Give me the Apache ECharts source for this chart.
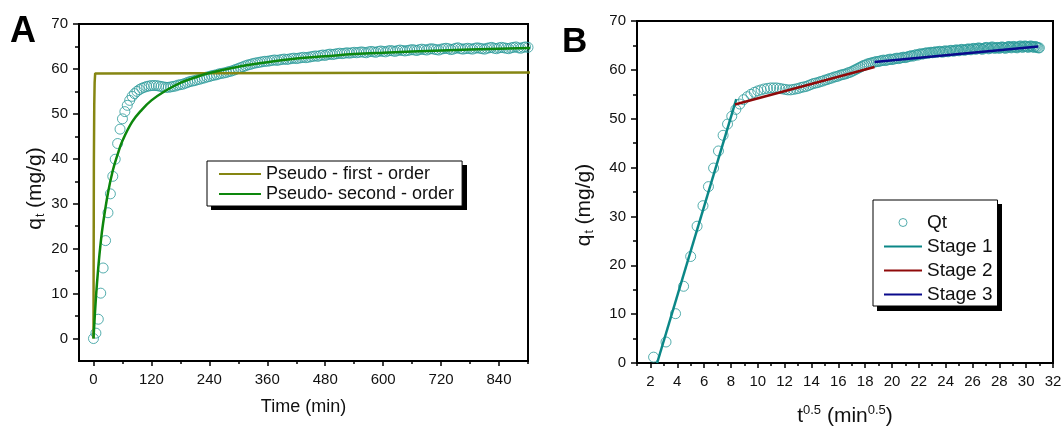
<!DOCTYPE html>
<html>
<head>
<meta charset="utf-8">
<script src="https://cdn.jsdelivr.net/npm/echarts@6/dist/echarts.min.js"></script>
<style>
  html, body { margin: 0; padding: 0; background: #fff; }
  #chart { width: 1063px; height: 427px; }
</style>
</head>
<body>
<div id="chart"></div>
<script>
// Contact time (min) of each adsorption measurement
const timeMin = [
  0, 5, 10, 15, 20, 25, 30, 35, 40, 45, 50, 55, 60, 65, 70, 75, 80, 85, 90, 95,
  100, 105, 110, 115, 120, 125, 130, 135, 140, 145, 150, 155, 160, 165, 170, 175, 180, 185, 190, 195,
  200, 205, 210, 215, 220, 225, 230, 235, 240, 245, 250, 255, 260, 265, 270, 275, 280, 285, 290, 295,
  300, 305, 310, 315, 320, 325, 330, 335, 340, 345, 350, 355, 360, 365, 370, 375, 380, 385, 390, 395,
  400, 405, 410, 415, 420, 425, 430, 435, 440, 445, 450, 455, 460, 465, 470, 475, 480, 485, 490, 495,
  500, 505, 510, 515, 520, 525, 530, 535, 540, 545, 550, 555, 560, 565, 570, 575, 580, 585, 590, 595,
  600, 605, 610, 615, 620, 625, 630, 635, 640, 645, 650, 655, 660, 665, 670, 675, 680, 685, 690, 695,
  700, 705, 710, 715, 720, 725, 730, 735, 740, 745, 750, 755, 760, 765, 770, 775, 780, 785, 790, 795,
  800, 805, 810, 815, 820, 825, 830, 835, 840, 845, 850, 855, 860, 865, 870, 875, 880, 885, 890, 895,
  900, 905, 910, 915, 920, 925, 930, 935, 940, 945, 950, 955, 960
];

// Adsorbed amount qt (mg/g) at each time
const qtValues = [
  0, 1.2, 4.3, 10.1, 15.7, 21.8, 28.0, 32.2, 36.1, 39.9, 43.4, 46.6, 48.9, 50.5, 51.9, 53.0, 53.9, 54.5, 55.0, 55.4,
  55.7, 55.9, 56.1, 56.2, 56.3, 56.3, 56.3, 56.2, 56.1, 56.0, 55.9, 55.9, 56.0, 56.1, 56.2, 56.4, 56.5, 56.6, 56.8, 57.0,
  57.2, 57.3, 57.4, 57.6, 57.7, 57.9, 58.0, 58.2, 58.3, 58.5, 58.6, 58.7, 58.9, 59.0, 59.1, 59.2, 59.4, 59.5, 59.7, 59.9,
  60.1, 60.3, 60.5, 60.7, 60.9, 61.0, 61.2, 61.3, 61.4, 61.5, 61.6, 61.7, 61.7, 61.8, 61.9, 62.0, 61.9, 62.0, 62.1, 62.2,
  62.1, 62.2, 62.3, 62.4, 62.3, 62.4, 62.5, 62.6, 62.5, 62.6, 62.7, 62.8, 62.9, 62.8, 63.0, 63.1, 63.0, 63.2, 63.3, 63.2,
  63.3, 63.4, 63.5, 63.4, 63.5, 63.6, 63.5, 63.6, 63.7, 63.6, 63.7, 63.8, 63.7, 63.6, 63.8, 63.9, 63.8, 63.7, 63.9, 64.0,
  63.9, 63.8, 64.0, 64.1, 64.0, 63.9, 64.1, 64.2, 64.1, 64.0, 64.1, 64.2, 64.3, 64.2, 64.1, 64.3, 64.4, 64.3, 64.2, 64.4,
  64.5, 64.4, 64.3, 64.2, 64.4, 64.5, 64.6, 64.5, 64.3, 64.4, 64.6, 64.7, 64.5, 64.4, 64.5, 64.6, 64.5, 64.4, 64.6, 64.7,
  64.6, 64.5, 64.4, 64.6, 64.7, 64.8, 64.6, 64.5, 64.7, 64.8, 64.7, 64.6, 64.5, 64.7, 64.8, 64.9, 64.7, 64.6, 64.8, 64.9,
  64.8, 64.7, 64.6, 64.8, 64.9, 64.8, 64.7, 64.6, 64.8, 64.7, 64.6, 64.5, 64.5
];

// Pseudo-first-order fit (time, qt)
const pfoTime   = [0, 0.8, 1.6, 2.4, 3.5, 6, 960];
const pfoValues = [0, 39, 52, 57, 59, 59.2, 59.2];

// Pseudo-second-order fit (time, qt)
const psoTime   = [0, 5, 10, 15, 20, 30, 40, 50, 60, 80, 100, 120, 150, 180, 210, 240, 300, 360, 420, 480, 540, 600, 720, 840, 960];
const psoValues = [0, 9.0, 15.9, 21.4, 25.7, 32.4, 37.4, 41.0, 44.0, 48.2, 50.9, 53.0, 55.2, 56.9, 58.1, 59.1, 60.5, 61.5, 62.3, 62.8, 63.3, 63.6, 64.1, 64.5, 64.8];

// Intra-particle diffusion stages (t^0.5, qt) end points
const stage1 = [[2.5, 0], [8.4, 54.0]];
const stage2 = [[8.3, 52.9], [18.7, 60.6]];
const stage3 = [[18.7, 61.6], [30.9, 64.8]];

// Tick positions
const xLabelsA = [0, 120, 240, 360, 480, 600, 720, 840];
const xMinorA  = [60, 180, 300, 420, 540, 660, 780, 900];
const yLabelsA = [0, 10, 20, 30, 40, 50, 60, 70];
const yMinorA  = [5, 15, 25, 35, 45, 55, 65];
const xLabelsB = [2, 4, 6, 8, 10, 12, 14, 16, 18, 20, 22, 24, 26, 28, 30, 32];
const xMinorB  = [1, 3, 5, 7, 9, 11, 13, 15, 17, 19, 21, 23, 25, 27, 29, 31];
const yLabelsB = [0, 10, 20, 30, 40, 50, 60, 70];
const yMinorB  = [5, 15, 25, 35, 45, 55, 65];

const FONT = '"Liberation Sans", Arial, sans-serif';
const INK = '#111';
const C_QT = '#2a9a9a';
const C_S1 = '#0b8787';
const C_S2 = '#8f0a0a';
const C_S3 = '#0a0a8c';
const C_PFO = '#868612';
const C_PSO = '#0d870d';

const zip = (xs, ys) => xs.map((x, i) => [x, ys[i]]);

const qtVsTime = zip(timeMin, qtValues);
const qtVsRoot = zip(timeMin.map(t => Math.sqrt(t)), qtValues);

// Axis title style with sub/superscript runs
function nameStyle(size, small, padding) {
  const off = Math.round(size * 0.5);
  return {
    fontSize: size, color: INK, fontFamily: FONT, padding,
    rich: {
      i: { fontSize: size, color: INK, fontFamily: FONT },
      s: { fontSize: small, color: INK, fontFamily: FONT, padding: [off, 0, 0, 1] },
      p: { fontSize: small, color: INK, fontFamily: FONT, padding: [0, 0, off, 0] }
    }
  };
}

function mainAxis(extra) {
  return Object.assign({
    type: 'value',
    splitLine: { show: false },
    axisLine: { show: true, onZero: false, lineStyle: { color: '#000', width: 2 } },
    nameLocation: 'middle'
  }, extra);
}

// Axis carrying only the short intermediate ticks
function minorAxis(extra) {
  return Object.assign({
    type: 'value',
    splitLine: { show: false },
    axisLine: { show: false, onZero: false },
    axisLabel: { show: false }
  }, extra);
}

const tickCfg = (vals, len) => ({ show: true, inside: false, customValues: vals, length: len, lineStyle: { color: '#000', width: 1.5 } });
const labelCfg = (vals) => ({ customValues: vals, fontSize: 15, color: INK, fontFamily: FONT, margin: 11 });

// Line legend entries: no marker dot, only the stroke
const lineEntry = (name) => ({ name, itemStyle: { color: 'transparent', borderColor: 'transparent', borderWidth: 0 } });

const legendBase = {
  orient: 'vertical', z: 5,
  backgroundColor: '#fff', borderColor: '#000', borderWidth: 1,
  selectedMode: false
};

const chart = echarts.init(document.getElementById('chart'), null, { renderer: 'canvas' });

chart.setOption({
  animation: false,
  backgroundColor: '#fff',
  grid: [
    { left: 79, top: 24, width: 449, height: 337, outerBoundsMode: 'none', containLabel: false,
      show: true, borderColor: '#000', borderWidth: 2, backgroundColor: 'transparent' },
    { left: 637, top: 21, width: 416, height: 342, outerBoundsMode: 'none', containLabel: false,
      show: true, borderColor: '#000', borderWidth: 2, backgroundColor: 'transparent' }
  ],
  xAxis: [
    mainAxis({ gridIndex: 0, position: 'bottom', min: -30, max: 900,
      axisTick: tickCfg(xLabelsA, 5), axisLabel: labelCfg(xLabelsA),
      name: 'Time (min)', nameGap: 37, nameTextStyle: nameStyle(18, 11) }),
    minorAxis({ gridIndex: 0, position: 'bottom', min: -30, max: 900, axisTick: tickCfg(xMinorA, 3) }),
    mainAxis({ gridIndex: 1, position: 'bottom', min: 1, max: 32,
      axisTick: tickCfg(xLabelsB, 5), axisLabel: labelCfg(xLabelsB),
      name: '{i|t}{p|0.5}{i| (min}{p|0.5}{i|)}', nameGap: 41, nameTextStyle: nameStyle(21, 13) }),
    minorAxis({ gridIndex: 1, position: 'bottom', min: 1, max: 32, axisTick: tickCfg(xMinorB, 3) })
  ],
  yAxis: [
    mainAxis({ gridIndex: 0, position: 'left', min: -5, max: 70,
      axisTick: tickCfg(yLabelsA, 6), axisLabel: labelCfg(yLabelsA),
      name: '{i|q}{s|t}{i| (mg/g)}', nameGap: 32, nameTextStyle: nameStyle(21, 12, [0, 0, 0, 8]) }),
    minorAxis({ gridIndex: 0, position: 'left', min: -5, max: 70, axisTick: tickCfg(yMinorA, 4) }),
    mainAxis({ gridIndex: 1, position: 'left', min: 0, max: 70,
      axisTick: tickCfg(yLabelsB, 6), axisLabel: labelCfg(yLabelsB),
      name: '{i|q}{s|t}{i| (mg/g)}', nameGap: 41, nameTextStyle: nameStyle(21, 12, [0, 26, 0, 0]) }),
    minorAxis({ gridIndex: 1, position: 'left', min: 0, max: 70, axisTick: tickCfg(yMinorB, 4) })
  ],
  legend: [
    Object.assign({}, legendBase, {
      left: 207, top: 161,
      data: [lineEntry('Pseudo - first - order'), lineEntry('Pseudo- second - order')],
      itemWidth: 42, itemHeight: 10, itemGap: 2,
      padding: [4, 8, 3, 11],
      textStyle: { fontSize: 18, lineHeight: 18, color: INK, fontFamily: FONT }
    }),
    Object.assign({}, legendBase, {
      left: 873, top: 200,
      data: [
        { name: 'Qt', icon: 'circle', itemStyle: { color: 'transparent', borderColor: C_QT, borderWidth: 1 } },
        lineEntry('Stage 1'), lineEntry('Stage 2'), lineEntry('Stage 3')
      ],
      itemWidth: 38, itemHeight: 8, itemGap: 5,
      padding: [13, 5, 2, 10],
      textStyle: { fontSize: 19, lineHeight: 19, color: INK, fontFamily: FONT }
    })
  ],
  graphic: [
    // drop shadows behind the two legend boxes
    { type: 'rect', z: 4, shape: { x: 211, y: 165, width: 256, height: 45 }, style: { fill: '#000' } },
    { type: 'rect', z: 4, shape: { x: 877, y: 204, width: 125, height: 107 }, style: { fill: '#000' } },
    { type: 'text', left: 10, top: 14, style: { text: 'A', fontSize: 36, fontWeight: 'bold', fontFamily: FONT, fill: '#000' } },
    { type: 'text', left: 562, top: 25, style: { text: 'B', fontSize: 35, fontWeight: 'bold', fontFamily: FONT, fill: '#000' } }
  ],
  series: [
    {
      name: 'Qt', type: 'scatter', xAxisIndex: 0, yAxisIndex: 0,
      data: qtVsTime, symbol: 'circle', symbolSize: 10,
      itemStyle: { color: 'transparent', borderColor: C_QT, borderWidth: 1 },
      emphasis: { disabled: true }, z: 2
    },
    {
      name: 'Pseudo - first - order', type: 'line', xAxisIndex: 0, yAxisIndex: 0,
      data: zip(pfoTime, pfoValues), symbol: 'none', smooth: false,
      lineStyle: { color: C_PFO, width: 2.5 }, itemStyle: { color: C_PFO },
      emphasis: { disabled: true }, z: 3
    },
    {
      name: 'Pseudo- second - order', type: 'line', xAxisIndex: 0, yAxisIndex: 0,
      data: zip(psoTime, psoValues), symbol: 'none', smooth: 0.4,
      lineStyle: { color: C_PSO, width: 2.5 }, itemStyle: { color: C_PSO },
      emphasis: { disabled: true }, z: 4
    },
    {
      name: 'Qt', type: 'scatter', xAxisIndex: 2, yAxisIndex: 2,
      data: qtVsRoot, symbol: 'circle', symbolSize: 10,
      itemStyle: { color: 'transparent', borderColor: C_QT, borderWidth: 1 },
      emphasis: { disabled: true }, z: 2
    },
    {
      name: 'Stage 1', type: 'line', xAxisIndex: 2, yAxisIndex: 2,
      data: stage1, symbol: 'none', lineStyle: { color: C_S1, width: 2.5 }, itemStyle: { color: C_S1 },
      emphasis: { disabled: true }, z: 3
    },
    {
      name: 'Stage 2', type: 'line', xAxisIndex: 2, yAxisIndex: 2,
      data: stage2, symbol: 'none', lineStyle: { color: C_S2, width: 2.5 }, itemStyle: { color: C_S2 },
      emphasis: { disabled: true }, z: 3
    },
    {
      name: 'Stage 3', type: 'line', xAxisIndex: 2, yAxisIndex: 2,
      data: stage3, symbol: 'none', lineStyle: { color: C_S3, width: 2.5 }, itemStyle: { color: C_S3 },
      emphasis: { disabled: true }, z: 3
    }
  ]
});
</script>
</body>
</html>
